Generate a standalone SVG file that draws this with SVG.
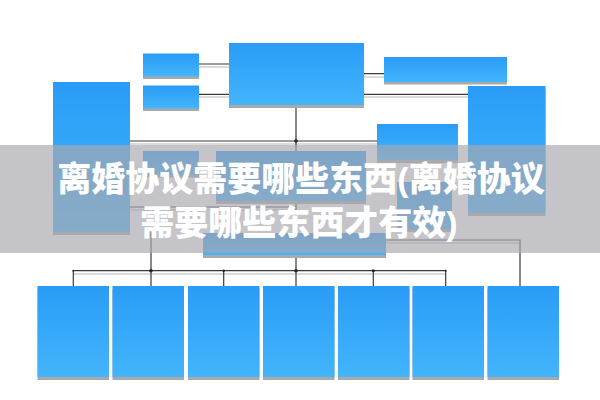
<svg xmlns="http://www.w3.org/2000/svg" width="600" height="400" viewBox="0 0 600 400">
  <defs>
    <linearGradient id="blue" x1="0" y1="0" x2="0" y2="1">
      <stop offset="0" stop-color="#2a9cf7"/>
      <stop offset="1" stop-color="#43b5fb"/>
    </linearGradient>
    <style>
      .box{fill:url(#blue);}
      .shd{fill:#a9a9a9;}
      .ln{fill:none;stroke:#3a3a3a;stroke-width:1.2;}
      .lns{fill:none;stroke:#d0d0d0;stroke-width:1.5;}
      .dot{fill:#222;}
      .band{fill:#a9a7af;fill-opacity:0.67;}
      .title{font-family:"Liberation Sans","Noto Sans CJK SC",sans-serif;font-weight:900;font-size:34px;fill:#ffffff;text-anchor:middle;}
    </style>
  </defs>
  <rect width="600" height="400" fill="#ffffff"/>

  <g id="connectors">
    <g class="lns">
      <path d="M199 67H229M199 97H229M364 77H384M364 97H468M130 144H377M130 210H296M73.3 274H445.7M386 243H520"/>
    </g>
    <g class="ln">
      <path d="M199 64H229M199 94.3H229M364 73.7H384M364 94.3H468"/>
      <path d="M130 141H377"/>
      <path d="M296 105V286"/>
      <path d="M130 207H296"/>
      <path d="M73.3 270.7H445.7"/>
      <path d="M73.3 270.7V286M151 232V286M223.7 270.7V286M373.3 270.7V286M445.7 270.7V286"/>
      <path d="M386 240H520V286"/>
    </g>
    <g class="dot">
      <circle cx="296" cy="141" r="1.8"/>
      <circle cx="151" cy="270.7" r="1.8"/>
      <circle cx="296" cy="270.7" r="1.8"/>
      <circle cx="373.3" cy="270.7" r="1.5"/>
      <circle cx="223.7" cy="270.7" r="1.2"/>
      <circle cx="73.3" cy="270.7" r="1"/>
      <circle cx="445.7" cy="270.7" r="1"/>
    </g>
  </g>

  <g id="n-top-center"><rect class="shd" x="229" y="46" width="135" height="62"/><rect class="box" x="229" y="43" width="135" height="62"/></g>
  <g id="n-small-1"><rect class="shd" x="143" y="56" width="56" height="23"/><rect class="box" x="143" y="53.5" width="56" height="23"/></g>
  <g id="n-small-2"><rect class="shd" x="143" y="88" width="56" height="23"/><rect class="box" x="143" y="85.5" width="56" height="23"/></g>
  <g id="n-top-right"><rect class="shd" x="384" y="59.5" width="123" height="25"/><rect class="box" x="384" y="57" width="123" height="25"/></g>
  <g id="n-left"><rect class="shd" x="53" y="85" width="77" height="150"/><rect class="box" x="53" y="82" width="77" height="150"/></g>
  <g id="n-right"><rect class="shd" x="468" y="89" width="77.5" height="127"/><rect class="box" x="468" y="86" width="77.5" height="127"/></g>
  <g id="n-mid-right"><rect class="shd" x="377" y="127" width="81" height="36"/><rect class="box" x="377" y="124" width="81" height="36"/></g>
  <g id="n-small-3"><rect class="shd" x="143" y="153.5" width="56" height="24"/><rect class="box" x="143" y="151" width="56" height="24"/></g>
  <g id="n-wide"><rect class="shd" x="216" y="154" width="150" height="50"/><rect class="box" x="216" y="151" width="150" height="50"/></g>
  <g id="n-small-4"><rect class="shd" x="397" y="185" width="55" height="47"/><rect class="box" x="397" y="182" width="55" height="47"/></g>
  <g id="n-bottom-center"><rect class="shd" x="203" y="236" width="183" height="22"/><rect class="box" x="203" y="233" width="183" height="22"/></g>

  <g id="n-b1"><rect class="shd" x="37.5" y="289" width="71.5" height="91"/><rect class="box" x="37.5" y="286" width="71.5" height="91"/></g>
  <g id="n-b2"><rect class="shd" x="112.5" y="289" width="71.5" height="91"/><rect class="box" x="112.5" y="286" width="71.5" height="91"/></g>
  <g id="n-b3"><rect class="shd" x="188" y="289" width="71.5" height="91"/><rect class="box" x="188" y="286" width="71.5" height="91"/></g>
  <g id="n-b4"><rect class="shd" x="263" y="289" width="71.5" height="91"/><rect class="box" x="263" y="286" width="71.5" height="91"/></g>
  <g id="n-b5"><rect class="shd" x="338" y="289" width="71.5" height="91"/><rect class="box" x="338" y="286" width="71.5" height="91"/></g>
  <g id="n-b6"><rect class="shd" x="412.5" y="289" width="71.5" height="91"/><rect class="box" x="412.5" y="286" width="71.5" height="91"/></g>
  <g id="n-b7"><rect class="shd" x="487.5" y="289" width="71.5" height="91"/><rect class="box" x="487.5" y="286" width="71.5" height="91"/></g>

  <g id="title-band">
    <rect class="band" x="0" y="145" width="600" height="108"/>
    <text class="title"><tspan x="301" y="191">离婚协议需要哪些东西(离婚协议</tspan><tspan x="299" y="235">需要哪些东西才有效)</tspan></text>
  </g>
</svg>
